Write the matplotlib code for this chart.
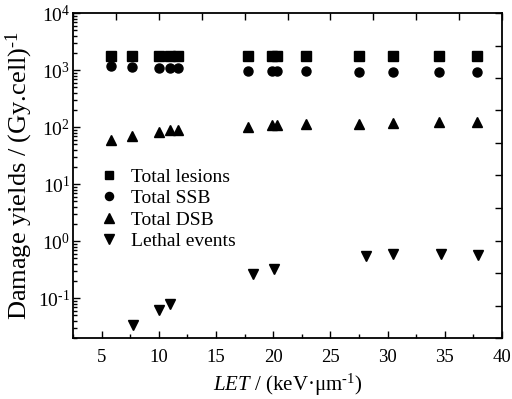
import numpy as np
import matplotlib
matplotlib.use("Agg")
import matplotlib.pyplot as plt
from matplotlib.ticker import MultipleLocator, LogLocator, NullFormatter, FuncFormatter

# LET values (keV/um)
let_all = [5.8, 7.7, 10.0, 11.0, 11.7, 17.8, 19.9, 20.3, 22.9, 27.5, 30.5, 34.5, 37.8]
total_lesions = [1760, 1760, 1760, 1760, 1760, 1760, 1760, 1760, 1760, 1760, 1760, 1760, 1760]
total_ssb = [1170, 1120, 1085, 1085, 1085, 980, 960, 960, 950, 940, 930, 930, 930]
total_dsb = [59, 70, 82, 88, 88, 100, 108, 108, 113, 113, 117, 122, 122]

let_lethal = [7.75, 10.0, 11.0, 18.2, 20.1, 28.1, 30.5, 34.7, 37.9]
lethal_events = [0.034, 0.062, 0.079, 0.26, 0.32, 0.55, 0.59, 0.59, 0.57]

plt.rcParams['font.family'] = ['Liberation Serif', 'DejaVu Serif']
plt.rcParams['mathtext.fontset'] = 'custom'
plt.rcParams['mathtext.rm'] = 'Liberation Serif'
plt.rcParams['mathtext.it'] = 'Liberation Serif:italic'
plt.rcParams['axes.unicode_minus'] = False


def pow10_label(v, pos):
    e = int(round(np.log10(v)))
    if e < 0:
        return r'$10^{\text{-}%d}$' % (-e)
    return r'$10^{%d}$' % e


fig = plt.figure(figsize=(5.12, 3.99), dpi=100)
ax = fig.add_axes([73 / 512, 61 / 399, 429 / 512, 325 / 399])

ax.plot(let_all, total_lesions, ls='none', marker='s', ms=6.5, color='black', label='Total lesions')
ax.plot(let_all, total_ssb, ls='none', marker='o', ms=6.5, color='black', label='Total SSB')
ax.plot(let_all, total_dsb, ls='none', marker='^', ms=7.5, color='black', label='Total DSB')
ax.plot(let_lethal, lethal_events, ls='none', marker='v', ms=7.5, color='black', label='Lethal events')

ax.set_yscale('log')
ax.set_xlim(2.5, 40)
ax.set_ylim(10 ** -1.7, 1e4)

ax.xaxis.set_major_locator(MultipleLocator(5))
ax.xaxis.set_minor_locator(MultipleLocator(2.5))
ax.yaxis.set_major_locator(LogLocator(base=10, numticks=10))
ax.yaxis.set_major_formatter(FuncFormatter(pow10_label))
ax.yaxis.set_minor_locator(LogLocator(base=10, subs=np.arange(2, 10), numticks=10))
ax.yaxis.set_minor_formatter(NullFormatter())
ax.tick_params(which='both', direction='in', top=False, right=False)
ax.tick_params(which='major', length=5, width=1)
ax.tick_params(which='minor', length=3, width=1)
ax.tick_params(axis='x', pad=8, labelsize=13.5)
ax.tick_params(axis='y', pad=2, labelsize=14)
for s in ax.spines.values():
    s.set_linewidth(1.3)

ax.set_xlabel('$LET$ / (keV·μm$^{\\text{-}1}$)', fontsize=15, labelpad=4)
ax.set_ylabel('Damage yields / (Gy.cell)$^{\\text{-}1}$', fontsize=19)
ax.yaxis.set_label_coords(-0.088, 0.5)

# top and right frame ticks (evenly spaced, unlabeled)
ax2 = fig.add_axes(ax.get_position(), frameon=False)
ax2.set_xlim(0, 1)
ax2.set_ylim(0, 1)
ax2.xaxis.set_major_locator(MultipleLocator(0.1))
ax2.yaxis.set_major_locator(MultipleLocator(0.1))
ax2.tick_params(direction='in', length=5, width=1, bottom=False, left=False,
                top=True, right=True, labelbottom=False, labelleft=False)

ax.legend(loc='upper left', bbox_to_anchor=(0.03, 0.565), frameon=False, fontsize=14,
          handlelength=1.0, handletextpad=0.6, labelspacing=0.2, borderpad=0.2,
          markerscale=0.9)

fig.savefig('out.png', dpi=100)
